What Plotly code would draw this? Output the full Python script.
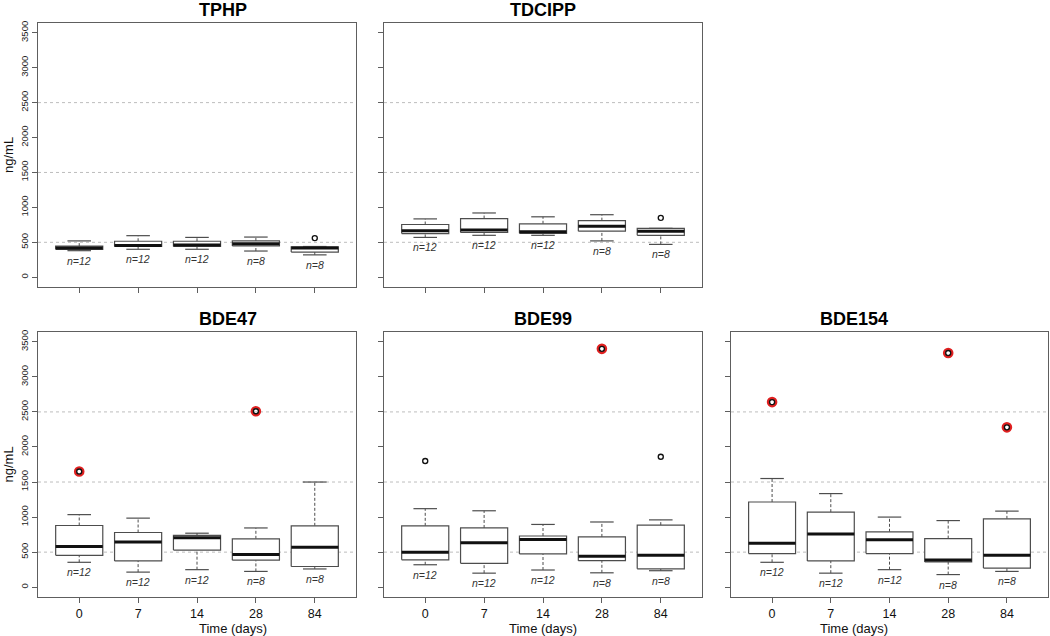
import plotly.graph_objects as go

# ---------------- data ----------------
days = ["0", "7", "14", "28", "84"]
n_labels = ["n=12", "n=12", "n=12", "n=8", "n=8"]
compounds = ["TPHP", "TDCIPP", "BDE47", "BDE99", "BDE154"]
y_tick_values = [0, 500, 1000, 1500, 2000, 2500, 3000, 3500]
grid_levels = [500, 1500, 2500]

tphp_low = [380, 400, 400, 375, 320]
tphp_q1 = [400, 440, 440, 448, 360]
tphp_med = [418, 455, 460, 480, 420]
tphp_q3 = [445, 515, 515, 520, 435]
tphp_high = [520, 595, 570, 575, 440]
tphp_out_day = [4]
tphp_out_val = [560]
tphp_out_flag = [False]

tdcipp_low = [570, 600, 600, 520, 470]
tdcipp_q1 = [625, 640, 628, 660, 600]
tdcipp_med = [665, 675, 650, 730, 660]
tdcipp_q3 = [755, 840, 765, 810, 700]
tdcipp_high = [835, 920, 865, 895, 700]
tdcipp_out_day = [4]
tdcipp_out_val = [850]
tdcipp_out_flag = [False]

bde47_low = [355, 215, 250, 225, 260]
bde47_q1 = [455, 375, 530, 385, 295]
bde47_med = [580, 645, 705, 465, 570]
bde47_q3 = [880, 780, 740, 690, 875]
bde47_high = [1035, 985, 770, 845, 1500]
bde47_out_day = [0, 3]
bde47_out_val = [1650, 2510]
bde47_out_flag = [True, True]

bde99_low = [320, 200, 245, 205, 235]
bde99_q1 = [390, 340, 475, 378, 262]
bde99_med = [500, 635, 680, 440, 455]
bde99_q3 = [875, 845, 730, 717, 885]
bde99_high = [1120, 1090, 895, 930, 960]
bde99_out_day = [0, 3, 4]
bde99_out_val = [1800, 3400, 1860]
bde99_out_flag = [False, True, False]

bde154_low = [355, 200, 250, 180, 225]
bde154_q1 = [480, 375, 480, 360, 272]
bde154_med = [625, 760, 675, 388, 455]
bde154_q3 = [1215, 1070, 790, 693, 975]
bde154_high = [1550, 1335, 1000, 950, 1085]
bde154_out_day = [0, 3, 4]
bde154_out_val = [2640, 3340, 2280]
bde154_out_flag = [True, True, True]

stats = {
    "TPHP": (tphp_low, tphp_q1, tphp_med, tphp_q3, tphp_high, tphp_out_day, tphp_out_val, tphp_out_flag),
    "TDCIPP": (tdcipp_low, tdcipp_q1, tdcipp_med, tdcipp_q3, tdcipp_high, tdcipp_out_day, tdcipp_out_val, tdcipp_out_flag),
    "BDE47": (bde47_low, bde47_q1, bde47_med, bde47_q3, bde47_high, bde47_out_day, bde47_out_val, bde47_out_flag),
    "BDE99": (bde99_low, bde99_q1, bde99_med, bde99_q3, bde99_high, bde99_out_day, bde99_out_val, bde99_out_flag),
    "BDE154": (bde154_low, bde154_q1, bde154_med, bde154_q3, bde154_high, bde154_out_day, bde154_out_val, bde154_out_flag),
}

# ---------------- layout geometry ----------------
W, H = 1050, 636
col_px = [(38, 356), (384, 702), (731, 1048)]
row_px = [(23, 287), (332, 597)]
panel_pos = {"TPHP": (0, 0), "TDCIPP": (0, 1), "BDE47": (1, 0), "BDE99": (1, 1), "BDE154": (1, 2)}

BOX_HALF = 0.4
CAP_HALF = 0.2
FONT = "Liberation Sans, Arial, sans-serif"
FRAME = "#5e5e5e"
BOXLINE = "#4d4d4d"

fig = go.Figure()
layout_axes = {}
annotations = []
shapes = []

for k, comp in enumerate(compounds):
    suffix = "" if k == 0 else str(k + 1)
    xref, yref = "x" + suffix, "y" + suffix
    low, q1, med, q3, high, od, ov, of = stats[comp]
    pos = [i + 1 for i in range(len(days))]

    wx, wy, cx, cy, bx, by, mx, my = [], [], [], [], [], [], [], []
    for p, lo, a, m, b, hi in zip(pos, low, q1, med, q3, high):
        wx += [p, p, None, p, p, None]
        wy += [lo, a, None, b, hi, None]
        cx += [p - CAP_HALF, p + CAP_HALF, None, p - CAP_HALF, p + CAP_HALF, None]
        cy += [lo, lo, None, hi, hi, None]
        bx += [p - BOX_HALF, p + BOX_HALF, p + BOX_HALF, p - BOX_HALF, p - BOX_HALF, None]
        by += [a, a, b, b, a, None]
        mx += [p - BOX_HALF, p + BOX_HALF, None]
        my += [m, m, None]

    common = dict(xaxis=xref, yaxis=yref, showlegend=False, hoverinfo="skip")
    fig.add_trace(go.Scatter(x=wx, y=wy, mode="lines",
                             line=dict(color=BOXLINE, width=1, dash="3px,2px"), **common))
    fig.add_trace(go.Scatter(x=bx, y=by, mode="lines", fill="toself", fillcolor="white",
                             line=dict(color=BOXLINE, width=1.2), **common))
    fig.add_trace(go.Scatter(x=cx, y=cy, mode="lines",
                             line=dict(color=BOXLINE, width=1.2), **common))
    fig.add_trace(go.Scatter(x=mx, y=my, mode="lines",
                             line=dict(color="#111111", width=3), **common))

    fx = [od[j] + 1 for j in range(len(od)) if of[j]]
    fy = [ov[j] for j in range(len(od)) if of[j]]
    if fx:
        fig.add_trace(go.Scatter(x=fx, y=fy, mode="markers",
                                 marker=dict(symbol="circle-open", size=8, color="#e02020",
                                             line=dict(width=2.6, color="#e02020")), **common))
    ax_ = [od[j] + 1 for j in range(len(od))]
    ay_ = list(ov)
    fig.add_trace(go.Scatter(x=ax_, y=ay_, mode="markers",
                             marker=dict(symbol="circle-open", size=5, color="#111111",
                                         line=dict(width=1.4, color="#111111")), **common))

    # n labels under the lower whisker
    for p, lo, lab in zip(pos, low, n_labels):
        annotations.append(dict(x=p, y=lo, xref=xref, yref=yref, text="<i>" + lab + "</i>",
                                showarrow=False, yanchor="top", yshift=-2,
                                font=dict(family=FONT, size=10.5, color="#333333")))

    r, c = panel_pos[comp]
    x0, x1 = col_px[c]
    y0, y1 = row_px[r]
    xdom = [x0 / W, x1 / W]
    ydom = [1 - y1 / H, 1 - y0 / H]
    bottom_row = (r == 1)
    left_col = (c == 0)

    layout_axes["xaxis" + suffix] = dict(
        domain=xdom, anchor=yref, range=[0.3, 5.7], tickmode="array",
        tickvals=pos, ticktext=days if bottom_row else [""] * len(days),
        showticklabels=bottom_row, ticks="outside", ticklen=5, tickcolor=FRAME,
        showline=True, mirror=True, linecolor=FRAME, linewidth=1, showgrid=False,
        zeroline=False, automargin=False,
        tickfont=dict(family=FONT, size=12.5, color="#111111"))
    layout_axes["yaxis" + suffix] = dict(
        domain=ydom, anchor=xref, range=[-140, 3640], tickmode="array",
        tickvals=y_tick_values, showticklabels=left_col, tickangle=-90,
        ticks="outside", ticklen=5, tickcolor=FRAME,
        showline=True, mirror=True, linecolor=FRAME, linewidth=1, showgrid=False,
        zeroline=False, automargin=False,
        tickfont=dict(family=FONT, size=9.5, color="#222222"))

    for g in grid_levels:
        shapes.append(dict(type="line", xref=xref + " domain", yref=yref, x0=0, x1=1, y0=g, y1=g,
                           line=dict(color="#bdbdbd", width=1, dash="dot"), layer="below"))

    # panel title
    annotations.append(dict(x=(xdom[0] + xdom[1]) / 2, y=ydom[1], xref="paper", yref="paper",
                            text="<b>" + comp + "</b>", showarrow=False, yanchor="bottom", yshift=1,
                            font=dict(family=FONT, size=18, color="#000000")))
    if bottom_row:
        annotations.append(dict(x=(xdom[0] + xdom[1]) / 2, y=ydom[0], xref="paper", yref="paper",
                                text="Time (days)", showarrow=False, yanchor="middle", yshift=-31,
                                font=dict(family=FONT, size=13, color="#111111")))
    if left_col:
        annotations.append(dict(x=8 / W, y=(ydom[0] + ydom[1]) / 2,
                                xref="paper", yref="paper",
                                text="ng/mL", showarrow=False, textangle=-90,
                                xanchor="center", yanchor="middle",
                                font=dict(family=FONT, size=13, color="#111111")))

fig.update_layout(
    width=W, height=H, template="none",
    margin=dict(l=0, r=0, t=0, b=0),
    paper_bgcolor="white", plot_bgcolor="white",
    annotations=annotations, shapes=shapes,
    **layout_axes,
)

# remove the browser's default page margin so the figure fills the window exactly
fig.write_html("out.html",
               config={"displayModeBar": False},
               post_script="document.body.style.margin='0px';document.body.style.overflow='hidden';")
